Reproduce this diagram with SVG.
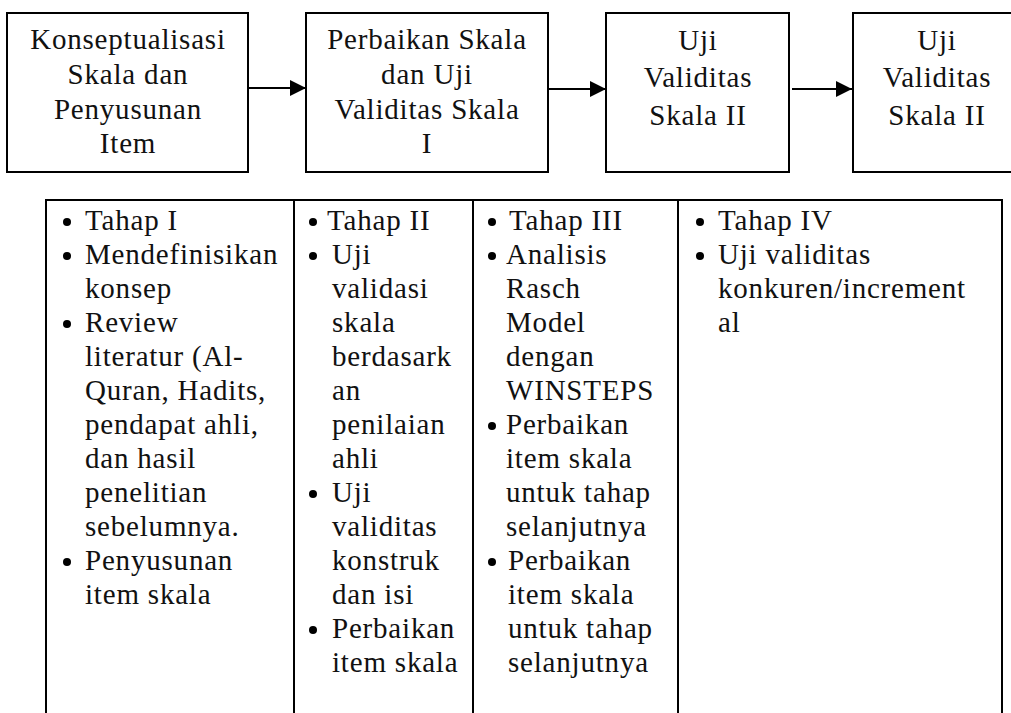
<svg xmlns="http://www.w3.org/2000/svg" width="1011" height="713" viewBox="0 0 1011 713">
<defs>
<style>
.box{fill:#fff;stroke:#000;stroke-width:2}
.ln{stroke:#000;stroke-width:2;fill:none}
text{font-family:"Liberation Serif","Times New Roman",serif;font-size:29px;fill:#111;letter-spacing:0.8px}
.c{text-anchor:middle}
.b{fill:#000}
</style>
<marker id="ah" markerWidth="16" markerHeight="16" refX="16" refY="8" orient="auto" markerUnits="userSpaceOnUse">
<path d="M0,0 L16,8 L0,16 Z" fill="#000"/>
</marker>
</defs>
<rect width="1011" height="713" fill="#fff"/>

<g id="node1">
<rect class="box" x="7" y="13" width="241" height="159"/>
<text class="c" x="128" y="49">Konseptualisasi</text>
<text class="c" x="128" y="84">Skala dan</text>
<text class="c" x="128" y="119">Penyusunan</text>
<text class="c" x="128" y="153">Item</text>
</g>
<g id="node2">
<rect class="box" x="306" y="13" width="242" height="159"/>
<text class="c" x="427" y="49">Perbaikan Skala</text>
<text class="c" x="427" y="84">dan Uji</text>
<text class="c" x="427" y="119">Validitas Skala</text>
<text class="c" x="427" y="153">I</text>
</g>
<g id="node3">
<rect class="box" x="606" y="13" width="183" height="159"/>
<text class="c" x="698" y="50">Uji</text>
<text class="c" x="698" y="87">Validitas</text>
<text class="c" x="698" y="125">Skala II</text>
</g>
<g id="node4">
<rect class="box" x="853" y="13" width="180" height="159"/>
<text class="c" x="937" y="50">Uji</text>
<text class="c" x="937" y="87">Validitas</text>
<text class="c" x="937" y="125">Skala II</text>
</g>

<g id="connectors">
<line class="ln" x1="248" y1="88" x2="306" y2="88" marker-end="url(#ah)"/>
<line class="ln" x1="548" y1="89" x2="606" y2="89" marker-end="url(#ah)"/>
<line class="ln" x1="792" y1="89" x2="852" y2="89" marker-end="url(#ah)"/>
</g>

<g id="table">
<line class="ln" x1="45" y1="200" x2="1003" y2="200"/>
<line class="ln" x1="46" y1="199" x2="46" y2="713"/>
<line class="ln" x1="294" y1="199" x2="294" y2="713"/>
<line class="ln" x1="473" y1="199" x2="473" y2="713"/>
<line class="ln" x1="678" y1="199" x2="678" y2="713"/>
<line class="ln" x1="1002" y1="199" x2="1002" y2="713"/>
</g>

<g id="col1">
<circle class="b" cx="67" cy="222" r="4"/>
<text x="85" y="230">Tahap I</text>
<circle class="b" cx="67" cy="256" r="4"/>
<text x="85" y="264">Mendefinisikan</text>
<text x="85" y="298">konsep</text>
<circle class="b" cx="67" cy="324" r="4"/>
<text x="85" y="332">Review</text>
<text x="85" y="366">literatur (Al-</text>
<text x="85" y="400">Quran, Hadits,</text>
<text x="85" y="434">pendapat ahli,</text>
<text x="85" y="468">dan hasil</text>
<text x="85" y="502">penelitian</text>
<text x="85" y="536">sebelumnya.</text>
<circle class="b" cx="67" cy="562" r="4"/>
<text x="85" y="570">Penyusunan</text>
<text x="85" y="604">item skala</text>
</g>

<g id="col2">
<circle class="b" cx="313" cy="222" r="4"/>
<text x="327" y="230">Tahap II</text>
<circle class="b" cx="313" cy="256" r="4"/>
<text x="332" y="264">Uji</text>
<text x="332" y="298">validasi</text>
<text x="332" y="332">skala</text>
<text x="332" y="366">berdasark</text>
<text x="332" y="400">an</text>
<text x="332" y="434">penilaian</text>
<text x="332" y="468">ahli</text>
<circle class="b" cx="313" cy="494" r="4"/>
<text x="332" y="502">Uji</text>
<text x="332" y="536">validitas</text>
<text x="332" y="570">konstruk</text>
<text x="332" y="604">dan isi</text>
<circle class="b" cx="313" cy="630" r="4"/>
<text x="332" y="638">Perbaikan</text>
<text x="332" y="672">item skala</text>
</g>

<g id="col3">
<circle class="b" cx="492" cy="222" r="4"/>
<text x="509" y="230">Tahap III</text>
<circle class="b" cx="492" cy="256" r="4"/>
<text x="506" y="264">Analisis</text>
<text x="506" y="298">Rasch</text>
<text x="506" y="332">Model</text>
<text x="506" y="366">dengan</text>
<text x="506" y="400">WINSTEPS</text>
<circle class="b" cx="492" cy="426" r="4"/>
<text x="506" y="434">Perbaikan</text>
<text x="506" y="468">item skala</text>
<text x="506" y="502">untuk tahap</text>
<text x="506" y="536">selanjutnya</text>
<circle class="b" cx="492" cy="562" r="4"/>
<text x="508" y="570">Perbaikan</text>
<text x="508" y="604">item skala</text>
<text x="508" y="638">untuk tahap</text>
<text x="508" y="672">selanjutnya</text>
</g>

<g id="col4">
<circle class="b" cx="700" cy="222" r="4"/>
<text x="718" y="230">Tahap IV</text>
<circle class="b" cx="700" cy="256" r="4"/>
<text x="718" y="264">Uji validitas</text>
<text x="718" y="298">konkuren/increment</text>
<text x="718" y="332">al</text>
</g>
</svg>
